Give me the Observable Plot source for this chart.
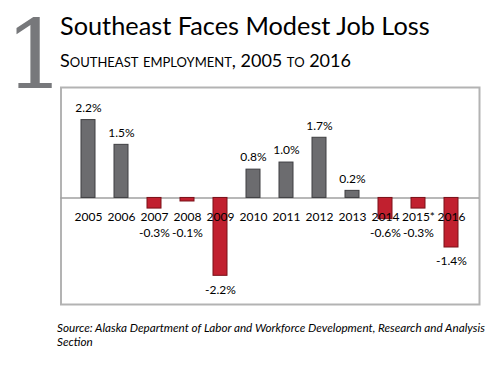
<!DOCTYPE html>
<html>
<head>
<meta charset="utf-8">
<script src="https://cdn.jsdelivr.net/npm/d3@7"></script>
<script src="https://cdn.jsdelivr.net/npm/@observablehq/plot@0.6"></script>
<style>
  html, body { margin: 0; padding: 0; background: #fff; }
  #page { position: relative; width: 500px; height: 365px; overflow: hidden; font-family: Lato, "Open Sans", sans-serif; }
  #num { position: absolute; left: 5px; top: 0px; font-family: "DejaVu Serif", "Liberation Serif", serif; font-size: 94.5px; line-height: 110px; color: #77787b; }
  #title { position: absolute; left: 60px; top: 12.7px; font-size: 25.3px; line-height: 25px; color: #000; white-space: nowrap; }
  #subtitle { position: absolute; left: 60px; top: 51px; font-size: 18px; line-height: 18px; font-variant: small-caps; color: #000; white-space: nowrap; }
  #chart { position: absolute; left: 0; top: 80px; }
  #source { position: absolute; left: 57px; top: 320px; width: 432px; font-size: 11.7px; line-height: 14px; font-style: italic; color: #000; }
</style>
</head>
<body>
<div id="page">
  <div id="num">1</div>
  <div id="title">Southeast Faces Modest Job Loss</div>
  <div id="subtitle">Southeast employment, 2005 to 2016</div>
  <div id="chart"></div>
  <div id="source">Source: Alaska Department of Labor and Workforce Development, Research and Analysis Section</div>
</div>
<script>
const years = ["2005","2006","2007","2008","2009","2010","2011","2012","2013","2014","2015*","2016"];
const values = [2.2, 1.5, -0.3, -0.1, -2.2, 0.8, 1.0, 1.7, 0.2, -0.6, -0.3, -1.4];
const valueLabels = ["2.2%","1.5%","-0.3%","-0.1%","-2.2%","0.8%","1.0%","1.7%","0.2%","-0.6%","-0.3%","-1.4%"];

const data = years.map((year, i) => ({year, value: values[i], label: valueLabels[i]}));
const pos = data.filter(d => d.value >= 0);
const neg = data.filter(d => d.value < 0);

const chart = Plot.plot({
  width: 500,
  height: 230,
  marginLeft: 60.5,
  marginRight: 21,
  marginTop: 7,
  marginBottom: 6,
  style: { fontFamily: "Lato, 'Open Sans', sans-serif", background: "transparent" },
  x: { type: "band", domain: years, padding: 0.59, axis: null },
  y: { domain: [-3.01, 3.12], axis: null },
  marks: [
    Plot.frame({ stroke: "#b3b3b3", strokeWidth: 2 }),
    Plot.ruleY([0], { stroke: "#a0a0a0", strokeWidth: 1.5 }),
    Plot.barY(pos, { x: "year", y: "value", fill: "#6c6c6f", stroke: "#3f3f42", strokeWidth: 1 }),
    Plot.barY(neg, { x: "year", y: "value", fill: "#c1202f", stroke: "#7a1019", strokeWidth: 1 }),
    Plot.text(data, { x: "year", y: 0, text: "year", dy: 19, fontSize: 12, fill: "#000" }),
    Plot.text(pos, { x: "year", y: "value", text: "label", dy: -12, fontSize: 12, fill: "#000" }),
    Plot.text(neg, { x: "year", y: d => Math.min(d.value, -0.6), text: "label", dy: 14, fontSize: 12, fill: "#000" })
  ]
});
document.getElementById("chart").appendChild(chart);
</script>
</body>
</html>
